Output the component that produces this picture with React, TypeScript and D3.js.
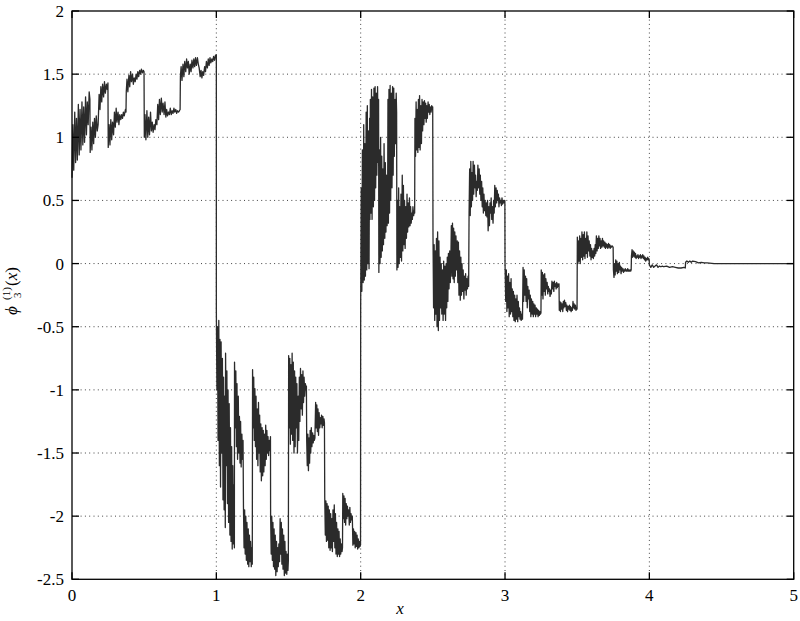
import * as d3 from 'd3';
import React from 'react';

const width = 800;
const height = 621;
const margin = { top: 11, right: 6.3, bottom: 41.7, left: 72 };
const ink = '#2b2b2b';

const xTicks = [0, 1, 2, 3, 4, 5];
const yTicks = [-2.5, -2, -1.5, -1, -0.5, 0, 0.5, 1, 1.5, 2];

// curve samples, one array per unit of x
const span0: [number, number][] = [
  [0, 0.68], [0.006, 1.1], [0.012, 0.74], [0.019, 1.2], [0.025, 0.8], [0.031, 1.15], [0.037, 0.82], [0.044, 1.26],
  [0.05, 0.86], [0.056, 1.22], [0.062, 0.9], [0.069, 1.28], [0.075, 0.94], [0.081, 1.24], [0.087, 0.96], [0.094, 1.32],
  [0.1, 1.02], [0.106, 1.28], [0.112, 1.1], [0.119, 1.36], [0.124, 1.3], [0.126, 0.88], [0.132, 1.08], [0.138, 0.9],
  [0.144, 1.12], [0.15, 0.95], [0.156, 1.15], [0.162, 1.0], [0.168, 1.17], [0.175, 1.05], [0.181, 1.1], [0.188, 1.34],
  [0.194, 1.22], [0.2, 1.4], [0.206, 1.28], [0.212, 1.42], [0.219, 1.32], [0.225, 1.44], [0.231, 1.35], [0.238, 1.42],
  [0.244, 1.38], [0.249, 1.43], [0.251, 0.92], [0.257, 1.1], [0.263, 0.94], [0.269, 1.14], [0.275, 0.98], [0.281, 1.12],
  [0.288, 1.02], [0.294, 1.2], [0.3, 1.08], [0.306, 1.23], [0.312, 1.12], [0.319, 1.2], [0.325, 1.1], [0.331, 1.18],
  [0.338, 1.14], [0.344, 1.18], [0.35, 1.15], [0.356, 1.2], [0.362, 1.17], [0.37, 1.22], [0.374, 1.2], [0.376, 1.36],
  [0.381, 1.46], [0.387, 1.36], [0.394, 1.49], [0.4, 1.4], [0.406, 1.52], [0.412, 1.44], [0.419, 1.5], [0.425, 1.42],
  [0.431, 1.47], [0.438, 1.44], [0.444, 1.5], [0.45, 1.46], [0.456, 1.52], [0.462, 1.48], [0.469, 1.53], [0.475, 1.5],
  [0.481, 1.54], [0.488, 1.51], [0.494, 1.53], [0.499, 1.52], [0.501, 1.0], [0.506, 1.18], [0.512, 0.98], [0.519, 1.21],
  [0.525, 1.0], [0.531, 1.16], [0.537, 1.02], [0.544, 1.2], [0.55, 1.05], [0.556, 1.12], [0.562, 1.04], [0.569, 1.1],
  [0.575, 1.06], [0.581, 1.14], [0.588, 1.1], [0.594, 1.26], [0.6, 1.14], [0.606, 1.3], [0.612, 1.18], [0.619, 1.31],
  [0.625, 1.2], [0.631, 1.27], [0.638, 1.18], [0.644, 1.28], [0.65, 1.16], [0.656, 1.22], [0.662, 1.17], [0.669, 1.2],
  [0.675, 1.18], [0.681, 1.23], [0.688, 1.18], [0.694, 1.21], [0.7, 1.19], [0.706, 1.23], [0.712, 1.2], [0.719, 1.22],
  [0.725, 1.19], [0.731, 1.21], [0.738, 1.2], [0.744, 1.21], [0.749, 1.22], [0.751, 1.48], [0.756, 1.56], [0.762, 1.45],
  [0.769, 1.58], [0.775, 1.48], [0.781, 1.6], [0.788, 1.52], [0.794, 1.62], [0.8, 1.55], [0.806, 1.6], [0.812, 1.5],
  [0.819, 1.58], [0.825, 1.52], [0.831, 1.61], [0.838, 1.55], [0.844, 1.62], [0.85, 1.56], [0.856, 1.63], [0.862, 1.57],
  [0.869, 1.63], [0.875, 1.58], [0.881, 1.55], [0.888, 1.48], [0.894, 1.53], [0.9, 1.47], [0.906, 1.52], [0.912, 1.49],
  [0.919, 1.56], [0.925, 1.52], [0.931, 1.6], [0.938, 1.55], [0.944, 1.62], [0.95, 1.57], [0.956, 1.63], [0.962, 1.59],
  [0.969, 1.62], [0.975, 1.6], [0.981, 1.64], [0.988, 1.61], [0.994, 1.65], [1.0, 1.65],
];

const span1: [number, number][] = [
  [1.0, -0.37], [1.004, -1.0], [1.008, -0.5], [1.012, -1.4], [1.017, -0.45], [1.021, -1.6], [1.025, -0.6], [1.029, -1.77],
  [1.033, -0.62], [1.037, -1.5], [1.042, -0.75], [1.046, -1.87], [1.05, -0.9], [1.054, -1.95], [1.058, -1.05], [1.062, -2.09],
  [1.064, -0.71], [1.069, -1.6], [1.073, -0.85], [1.077, -1.9], [1.081, -1.0], [1.085, -2.05], [1.089, -1.11], [1.094, -2.15],
  [1.098, -1.3], [1.102, -2.2], [1.106, -1.45], [1.11, -2.26], [1.114, -1.6], [1.118, -2.22], [1.122, -1.75], [1.125, -2.25],
  [1.126, -0.78], [1.131, -1.3], [1.135, -0.85], [1.139, -1.45], [1.143, -0.95], [1.147, -1.55], [1.152, -1.05], [1.156, -1.5],
  [1.16, -1.21], [1.164, -1.58], [1.168, -1.25], [1.172, -1.61], [1.177, -1.35], [1.181, -1.55], [1.185, -1.4], [1.188, -1.93],
  [1.192, -2.25], [1.196, -1.95], [1.2, -2.3], [1.204, -2.0], [1.208, -2.35], [1.212, -2.05], [1.217, -2.38], [1.221, -2.1],
  [1.225, -2.4], [1.229, -2.15], [1.233, -2.36], [1.237, -2.2], [1.242, -2.4], [1.246, -2.25], [1.249, -2.38], [1.251, -0.84],
  [1.255, -1.3], [1.259, -0.9], [1.263, -1.4], [1.267, -0.99], [1.271, -1.45], [1.275, -1.05], [1.279, -1.55], [1.283, -1.15],
  [1.288, -1.6], [1.292, -1.1], [1.296, -1.5], [1.3, -1.2], [1.304, -1.65], [1.308, -1.27], [1.312, -1.72], [1.317, -1.3],
  [1.321, -1.68], [1.325, -1.32], [1.329, -1.65], [1.333, -1.35], [1.338, -1.6], [1.342, -1.28], [1.346, -1.55], [1.35, -1.32],
  [1.354, -1.5], [1.358, -1.37], [1.362, -1.52], [1.367, -1.4], [1.371, -1.48], [1.375, -1.37], [1.376, -1.99], [1.38, -2.3],
  [1.384, -2.0], [1.388, -2.35], [1.392, -2.05], [1.396, -2.4], [1.4, -2.1], [1.404, -2.42], [1.408, -2.15], [1.412, -2.47],
  [1.417, -2.2], [1.421, -2.44], [1.425, -2.25], [1.429, -2.4], [1.433, -2.22], [1.438, -2.36], [1.442, -2.02], [1.446, -2.3],
  [1.45, -2.05], [1.454, -2.38], [1.458, -2.1], [1.462, -2.42], [1.467, -2.15], [1.471, -2.47], [1.475, -2.2], [1.479, -2.45],
  [1.483, -2.28], [1.488, -2.46], [1.492, -2.3], [1.496, -2.43], [1.499, -2.35], [1.501, -0.73], [1.505, -1.3], [1.509, -0.75],
  [1.513, -1.43], [1.517, -0.8], [1.521, -1.35], [1.525, -0.71], [1.529, -1.4], [1.533, -0.78], [1.538, -1.5], [1.542, -0.85],
  [1.546, -1.45], [1.55, -0.9], [1.554, -1.3], [1.558, -0.95], [1.562, -1.5], [1.567, -1.05], [1.571, -1.4], [1.575, -0.9],
  [1.579, -1.25], [1.583, -0.83], [1.588, -1.15], [1.592, -0.88], [1.596, -1.2], [1.6, -0.85], [1.604, -1.1], [1.608, -0.9],
  [1.612, -1.05], [1.617, -0.95], [1.621, -1.0], [1.624, -0.97], [1.626, -1.4], [1.63, -1.6], [1.634, -1.35], [1.638, -1.64],
  [1.642, -1.38], [1.646, -1.58], [1.65, -1.32], [1.654, -1.5], [1.658, -1.3], [1.662, -1.45], [1.667, -1.34], [1.671, -1.42],
  [1.675, -1.36], [1.679, -1.4], [1.683, -1.38], [1.688, -1.1], [1.692, -1.3], [1.696, -1.12], [1.7, -1.33], [1.704, -1.15],
  [1.708, -1.36], [1.712, -1.18], [1.717, -1.3], [1.721, -1.22], [1.725, -1.27], [1.729, -1.2], [1.733, -1.3], [1.738, -1.21],
  [1.742, -1.28], [1.746, -1.23], [1.749, -1.26], [1.751, -1.85], [1.755, -2.15], [1.759, -1.88], [1.763, -2.2], [1.767, -1.9],
  [1.771, -2.19], [1.775, -1.92], [1.779, -2.25], [1.783, -1.95], [1.788, -2.27], [1.792, -1.98], [1.796, -2.25], [1.8, -2.02],
  [1.804, -2.28], [1.808, -1.95], [1.812, -2.2], [1.817, -1.91], [1.821, -2.25], [1.825, -1.98], [1.829, -2.3], [1.833, -2.05],
  [1.838, -2.32], [1.842, -2.1], [1.846, -2.3], [1.85, -2.12], [1.854, -2.32], [1.858, -2.18], [1.862, -2.3], [1.867, -2.22],
  [1.871, -2.28], [1.874, -2.25], [1.876, -1.82], [1.88, -2.02], [1.884, -1.84], [1.888, -2.05], [1.892, -1.86], [1.896, -2.07],
  [1.9, -1.9], [1.904, -2.02], [1.908, -1.92], [1.912, -2.0], [1.917, -1.95], [1.921, -2.07], [1.925, -1.93], [1.929, -2.05],
  [1.933, -1.98], [1.938, -2.03], [1.942, -2.0], [1.946, -2.23], [1.95, -2.1], [1.954, -2.22], [1.958, -2.12], [1.962, -2.25],
  [1.967, -2.13], [1.971, -2.24], [1.975, -2.15], [1.979, -2.26], [1.983, -2.18], [1.988, -2.25], [1.992, -2.2], [1.996, -2.24],
  [1.999, -2.22],
];

const span2: [number, number][] = [
  [2.0, -0.33], [2.004, 0.6], [2.008, -0.22], [2.012, 0.9], [2.017, -0.15], [2.021, 1.1], [2.025, -0.13], [2.029, 0.95],
  [2.033, -0.1], [2.038, 1.2], [2.042, -0.05], [2.046, 1.25], [2.05, 0.0], [2.054, 1.05], [2.058, -0.04], [2.062, 1.15],
  [2.064, 0.35], [2.067, 1.3], [2.071, 0.4], [2.075, 1.38], [2.079, 0.35], [2.083, 1.32], [2.088, 0.45], [2.092, 1.39],
  [2.096, 0.5], [2.1, 1.4], [2.104, 0.6], [2.108, 1.35], [2.112, 0.7], [2.117, 1.4], [2.121, 0.8], [2.124, 1.3],
  [2.126, -0.07], [2.13, 0.9], [2.134, 0.0], [2.138, 1.0], [2.142, 0.05], [2.146, 0.85], [2.15, 0.1], [2.154, 0.75],
  [2.158, 0.15], [2.162, 0.95], [2.167, 0.2], [2.171, 0.8], [2.175, 0.25], [2.179, 0.7], [2.183, 0.3], [2.187, 0.6],
  [2.189, 1.3], [2.192, 0.32], [2.196, 1.38], [2.2, 0.4], [2.204, 1.41], [2.208, 0.5], [2.212, 1.35], [2.217, 0.6],
  [2.221, 1.4], [2.225, 0.7], [2.229, 1.39], [2.233, 0.85], [2.238, 1.3], [2.242, 0.95], [2.246, 1.35], [2.249, 1.2],
  [2.251, -0.05], [2.255, 0.5], [2.259, -0.03], [2.263, 0.6], [2.267, 0.0], [2.271, 0.45], [2.275, 0.05], [2.279, 0.55],
  [2.283, 0.02], [2.288, 0.7], [2.292, 0.1], [2.296, 0.62], [2.3, 0.15], [2.304, 0.5], [2.308, 0.12], [2.312, 0.45],
  [2.317, 0.2], [2.321, 0.55], [2.325, 0.25], [2.329, 0.48], [2.333, 0.29], [2.338, 0.52], [2.342, 0.3], [2.346, 0.45],
  [2.35, 0.32], [2.354, 0.4], [2.358, 0.35], [2.362, 0.45], [2.367, 0.38], [2.371, 0.42], [2.374, 0.4], [2.376, 1.15],
  [2.38, 0.85], [2.384, 1.28], [2.388, 0.9], [2.392, 1.22], [2.396, 0.88], [2.4, 1.3], [2.404, 0.92], [2.408, 1.33],
  [2.412, 0.9], [2.417, 1.25], [2.421, 0.95], [2.425, 1.3], [2.429, 1.05], [2.433, 1.28], [2.438, 1.1], [2.442, 1.29],
  [2.446, 1.15], [2.45, 1.27], [2.454, 1.12], [2.458, 1.25], [2.462, 1.15], [2.467, 1.28], [2.471, 1.2], [2.475, 1.26],
  [2.479, 1.18], [2.483, 1.24], [2.488, 1.2], [2.492, 1.25], [2.496, 1.22], [2.499, 1.24], [2.501, 0.23], [2.505, -0.35],
  [2.509, 0.15], [2.513, -0.45], [2.517, 0.1], [2.521, -0.4], [2.525, 0.2], [2.529, -0.5], [2.533, 0.25], [2.538, -0.53],
  [2.542, 0.18], [2.546, -0.45], [2.55, 0.05], [2.554, -0.35], [2.558, 0.0], [2.562, -0.4], [2.567, -0.05], [2.571, -0.45],
  [2.575, 0.02], [2.579, -0.4], [2.583, -0.02], [2.588, -0.45], [2.592, 0.0], [2.596, -0.35], [2.6, 0.05], [2.604, -0.3],
  [2.608, 0.08], [2.612, -0.2], [2.617, 0.1], [2.621, -0.15], [2.625, 0.05], [2.628, 0.3], [2.632, -0.1], [2.636, 0.32],
  [2.64, -0.12], [2.644, 0.28], [2.648, -0.15], [2.652, 0.25], [2.656, -0.1], [2.66, 0.22], [2.665, -0.05], [2.669, 0.18],
  [2.673, -0.15], [2.677, 0.17], [2.681, -0.25], [2.685, 0.1], [2.69, -0.29], [2.694, 0.05], [2.698, -0.25], [2.702, 0.0],
  [2.706, -0.22], [2.71, -0.05], [2.715, -0.28], [2.719, -0.1], [2.723, -0.21], [2.727, -0.08], [2.731, -0.25], [2.735, -0.12],
  [2.74, -0.2], [2.744, -0.1], [2.748, -0.18], [2.751, 0.4], [2.755, 0.75], [2.759, 0.38], [2.763, 0.81], [2.767, 0.45],
  [2.771, 0.72], [2.775, 0.5], [2.779, 0.81], [2.783, 0.55], [2.788, 0.78], [2.792, 0.6], [2.796, 0.7], [2.8, 0.53],
  [2.804, 0.65], [2.808, 0.58], [2.812, 0.78], [2.817, 0.6], [2.821, 0.75], [2.825, 0.55], [2.829, 0.7], [2.833, 0.5],
  [2.838, 0.65], [2.842, 0.45], [2.846, 0.6], [2.85, 0.4], [2.854, 0.55], [2.858, 0.42], [2.862, 0.5], [2.867, 0.38],
  [2.871, 0.48], [2.875, 0.37], [2.879, 0.5], [2.883, 0.26], [2.888, 0.45], [2.892, 0.3], [2.896, 0.48], [2.9, 0.4],
  [2.904, 0.52], [2.908, 0.35], [2.912, 0.45], [2.917, 0.32], [2.921, 0.5], [2.925, 0.4], [2.929, 0.62], [2.933, 0.45],
  [2.938, 0.6], [2.942, 0.48], [2.946, 0.58], [2.95, 0.5], [2.954, 0.55], [2.958, 0.45], [2.962, 0.52], [2.967, 0.48],
  [2.971, 0.5], [2.975, 0.46], [2.979, 0.52], [2.983, 0.47], [2.988, 0.5], [2.992, 0.48], [2.996, 0.5], [2.999, 0.49],
];

const span3: [number, number][] = [
  [3.0, 0.0], [3.005, -0.3], [3.009, -0.05], [3.013, -0.38], [3.017, -0.1], [3.021, -0.35], [3.025, -0.08], [3.029, -0.42],
  [3.033, -0.15], [3.038, -0.4], [3.042, -0.12], [3.046, -0.38], [3.05, -0.2], [3.054, -0.42], [3.058, -0.22], [3.062, -0.45],
  [3.067, -0.25], [3.071, -0.46], [3.075, -0.28], [3.079, -0.44], [3.083, -0.25], [3.088, -0.46], [3.092, -0.3], [3.096, -0.42],
  [3.1, -0.35], [3.104, -0.44], [3.108, -0.38], [3.112, -0.45], [3.117, -0.4], [3.121, -0.44], [3.125, -0.03], [3.129, -0.3],
  [3.133, -0.05], [3.138, -0.25], [3.142, -0.1], [3.146, -0.3], [3.15, -0.12], [3.154, -0.35], [3.158, -0.18], [3.162, -0.28],
  [3.167, -0.21], [3.171, -0.38], [3.175, -0.25], [3.179, -0.42], [3.183, -0.28], [3.188, -0.4], [3.192, -0.3], [3.196, -0.42],
  [3.2, -0.32], [3.204, -0.4], [3.208, -0.33], [3.212, -0.42], [3.217, -0.35], [3.221, -0.4], [3.225, -0.36], [3.229, -0.42],
  [3.233, -0.37], [3.238, -0.41], [3.242, -0.38], [3.246, -0.4], [3.249, -0.39], [3.251, -0.05], [3.255, -0.25], [3.259, -0.07],
  [3.263, -0.28], [3.267, -0.09], [3.271, -0.22], [3.275, -0.08], [3.279, -0.25], [3.283, -0.12], [3.288, -0.2], [3.292, -0.15],
  [3.296, -0.24], [3.3, -0.18], [3.304, -0.22], [3.308, -0.2], [3.312, -0.26], [3.317, -0.21], [3.321, -0.24], [3.325, -0.14],
  [3.329, -0.2], [3.333, -0.15], [3.338, -0.22], [3.342, -0.14], [3.346, -0.18], [3.35, -0.16], [3.354, -0.2], [3.358, -0.15],
  [3.362, -0.19], [3.367, -0.16], [3.371, -0.18], [3.374, -0.16], [3.376, -0.37], [3.38, -0.3], [3.384, -0.38], [3.388, -0.31],
  [3.392, -0.36], [3.396, -0.32], [3.4, -0.38], [3.404, -0.3], [3.408, -0.35], [3.412, -0.29], [3.417, -0.34], [3.421, -0.31],
  [3.425, -0.37], [3.429, -0.33], [3.433, -0.38], [3.438, -0.34], [3.442, -0.36], [3.446, -0.33], [3.45, -0.37], [3.454, -0.34],
  [3.458, -0.38], [3.462, -0.35], [3.467, -0.37], [3.471, -0.3], [3.475, -0.35], [3.479, -0.32], [3.483, -0.36], [3.488, -0.33],
  [3.492, -0.37], [3.496, -0.35], [3.499, -0.36], [3.501, 0.21], [3.505, 0.0], [3.509, 0.18], [3.513, 0.02], [3.517, 0.22],
  [3.521, 0.0], [3.525, 0.2], [3.529, 0.05], [3.533, 0.25], [3.538, 0.03], [3.542, 0.23], [3.546, 0.06], [3.55, 0.25],
  [3.554, 0.04], [3.558, 0.2], [3.562, 0.08], [3.567, 0.25], [3.571, 0.05], [3.575, 0.22], [3.579, 0.1], [3.583, 0.18],
  [3.588, 0.06], [3.592, 0.15], [3.596, 0.03], [3.6, 0.12], [3.604, 0.05], [3.608, 0.1], [3.612, 0.04], [3.617, 0.12],
  [3.621, 0.06], [3.625, 0.15], [3.629, 0.08], [3.633, 0.22], [3.638, 0.1], [3.642, 0.2], [3.646, 0.12], [3.65, 0.22],
  [3.654, 0.14], [3.658, 0.2], [3.662, 0.12], [3.667, 0.18], [3.671, 0.13], [3.675, 0.2], [3.679, 0.14], [3.683, 0.18],
  [3.688, 0.13], [3.692, 0.17], [3.696, 0.12], [3.7, 0.16], [3.704, 0.13], [3.708, 0.15], [3.712, 0.12], [3.717, 0.16],
  [3.721, 0.13], [3.725, 0.15], [3.729, 0.12], [3.733, 0.14], [3.738, 0.13], [3.742, 0.14], [3.749, 0.13], [3.751, -0.05],
  [3.755, -0.11], [3.759, 0.0], [3.763, -0.09], [3.767, 0.03], [3.771, -0.06], [3.775, 0.02], [3.779, -0.08], [3.783, 0.0],
  [3.788, -0.07], [3.792, 0.01], [3.796, -0.05], [3.8, -0.02], [3.804, -0.08], [3.808, -0.03], [3.812, -0.06], [3.817, -0.04],
  [3.821, -0.07], [3.825, -0.05], [3.829, -0.06], [3.833, -0.04], [3.838, -0.06], [3.842, -0.05], [3.846, -0.06], [3.85, -0.04],
  [3.854, -0.06], [3.858, -0.05], [3.862, -0.06], [3.867, -0.05], [3.871, -0.06], [3.874, -0.05], [3.876, 0.06], [3.88, 0.11],
  [3.884, 0.05], [3.888, 0.1], [3.892, 0.06], [3.896, 0.09], [3.9, 0.05], [3.904, 0.08], [3.908, 0.04], [3.912, 0.06],
  [3.917, 0.05], [3.921, 0.07], [3.925, 0.04], [3.929, 0.06], [3.933, 0.05], [3.938, 0.07], [3.942, 0.04], [3.946, 0.06],
  [3.95, 0.05], [3.954, 0.07], [3.958, 0.04], [3.962, 0.06], [3.967, 0.03], [3.971, 0.05], [3.975, 0.02], [3.979, 0.04],
  [3.983, 0.03], [3.988, 0.05], [3.992, 0.03], [3.996, 0.04], [3.999, 0.03],
];

const span4: [number, number][] = [
  [4.0, -0.01], [4.01, -0.03], [4.02, -0.01], [4.03, -0.03], [4.04, -0.02], [4.05, -0.01], [4.06, -0.03], [4.07, -0.02],
  [4.08, -0.025], [4.09, -0.02], [4.1, -0.025], [4.12, -0.02], [4.14, -0.03], [4.16, -0.025], [4.18, -0.03], [4.2, -0.035],
  [4.22, -0.035], [4.24, -0.03], [4.249, -0.035], [4.251, 0.01], [4.26, 0.02], [4.27, 0.01], [4.28, 0.02], [4.29, 0.01],
  [4.3, 0.02], [4.32, 0.015], [4.34, 0.005], [4.36, 0.01], [4.38, 0.005], [4.4, 0.005], [4.45, 0], [4.5, 0], [5.0, 0],
];

const curve = [...span0, ...span1, ...span2, ...span3, ...span4];

const serif = "'Liberation Serif', 'DejaVu Serif', serif";

export default function App() {
  const x = d3.scaleLinear().domain([0, 5]).range([margin.left, width - margin.right]);
  const y = d3.scaleLinear().domain([-2.5, 2]).range([height - margin.bottom, margin.top]);
  const line = d3.line<[number, number]>().x(d => x(d[0])).y(d => y(d[1]));

  const x0 = x(0), x1 = x(5), yTop = y(2), yBot = y(-2.5);
  const tick = 7;

  return (
    <svg width={width} height={height} style={{ position: 'absolute', left: 0, top: 0, background: '#fff' }}>
      <rect width={width} height={height} fill="#fff" />
      {/* dotted grid */}
      <g stroke="#444" strokeWidth={1} strokeDasharray="1 3.3">
        {xTicks.slice(1, -1).map(t => (
          <line key={'gx' + t} x1={x(t)} x2={x(t)} y1={yTop} y2={yBot} />
        ))}
        {yTicks.slice(1, -1).map(t => (
          <line key={'gy' + t} x1={x0} x2={x1} y1={y(t)} y2={y(t)} />
        ))}
      </g>

      <path d={line(curve) || ''} fill="none" stroke={ink} strokeWidth={1.3} strokeLinejoin="round" />

      {/* axes box with inward ticks */}
      <g stroke="#000" strokeWidth={1.3} fill="none">
        <rect x={x0} y={yTop} width={x1 - x0} height={yBot - yTop} />
        {xTicks.map(t => (
          <g key={'tx' + t}>
            <line x1={x(t)} x2={x(t)} y1={yBot} y2={yBot - tick} />
            <line x1={x(t)} x2={x(t)} y1={yTop} y2={yTop + tick} />
          </g>
        ))}
        {yTicks.map(t => (
          <g key={'ty' + t}>
            <line x1={x0} x2={x0 + tick} y1={y(t)} y2={y(t)} />
            <line x1={x1} x2={x1 - tick} y1={y(t)} y2={y(t)} />
          </g>
        ))}
      </g>

      <g style={{ fontFamily: serif, fontSize: 17 }} fill="#000">
        {xTicks.map(t => (
          <text key={'lx' + t} x={x(t)} y={601} textAnchor="middle">{String(t)}</text>
        ))}
        {yTicks.map(t => (
          <text key={'ly' + t} x={64} y={y(t) + 6} textAnchor="end">{String(t)}</text>
        ))}
        <text x={400} y={614} textAnchor="middle" fontStyle="italic">x</text>
        <g transform="translate(17, 294) rotate(-90)">
          <text x={-21} y={0} fontStyle="italic">ϕ</text>
          <text x={-6} y={-7} style={{ fontSize: 11 }}>(1)</text>
          <text x={-4} y={4} style={{ fontSize: 11 }}>3</text>
          <text x={8} y={0}>(<tspan fontStyle="italic">x</tspan>)</text>
        </g>
      </g>
    </svg>
  );
}
